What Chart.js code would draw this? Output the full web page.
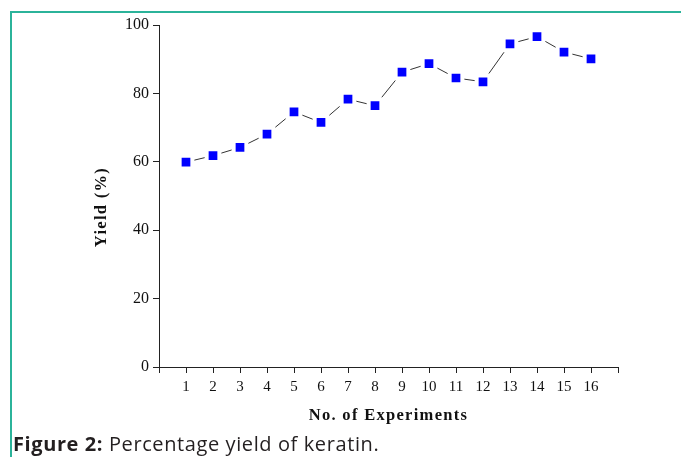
<!DOCTYPE html>
<html>
<head>
<meta charset="utf-8">
<script src="https://cdn.jsdelivr.net/npm/chart.js@4"></script>
<style>
  html, body { margin: 0; padding: 0; background: #fff; }
  #wrap { position: relative; width: 681px; height: 457px; overflow: hidden; }
  #frame { position: absolute; left: 10px; top: 11px; right: 0; bottom: 0;
           border-top: 2px solid #2bb39a; border-left: 2px solid #2bb39a; }
  #chart { position: absolute; left: 0; top: 0; }
  #caption { position: absolute; left: 13px; top: 430px; font-family: "Open Sans", Lato, sans-serif;
             font-size: 20px; letter-spacing: 0.6px; color: #231f20; white-space: nowrap; }
  #caption b { font-weight: 700; }
</style>
</head>
<body>
<div id="wrap">
  <div id="frame"></div>
  <canvas id="chart" width="681" height="457"></canvas>
  <div id="caption"><b>Figure 2:</b> Percentage yield of keratin.</div>
</div>
<script>
// Experiment numbers and keratin yield (%)
const experiments = [1, 2, 3, 4, 5, 6, 7, 8, 9, 10, 11, 12, 13, 14, 15, 16];
const yieldPercent = [59.9, 61.8, 64.2, 68.1, 74.6, 71.5, 78.3, 76.4, 86.2, 88.7, 84.5, 83.4, 94.5, 96.6, 92.1, 90.1];
const yTicks = [0, 20, 40, 60, 80, 100];

const points = experiments.map((e, i) => ({ x: e, y: yieldPercent[i] }));
const axisColor = '#222';
const serif = '"Liberation Serif", "Times New Roman", serif';

// Axis titles are set a little wider (letter spacing) and the y title sits slightly low
const titleSpacing = {
  id: 'titleSpacing',
  afterLayout(chart) {
    const shifts = { x: [0, 0], y: [0, 11] };
    Object.entries(shifts).forEach(([id, [dx, dy]]) => {
      const scale = chart.scales[id];
      if (!scale || scale._spacedTitle) return;
      const orig = scale.drawTitle;
      scale.drawTitle = function () {
        const ctx = this.ctx;
        ctx.save();
        ctx.letterSpacing = '1.3px';
        ctx.translate(dx, dy);
        orig.call(this);
        ctx.restore();
      };
      scale._spacedTitle = true;
    });
  }
};

new Chart(document.getElementById('chart'), {
  type: 'line',
  data: {
    datasets: [{
      data: points,
      borderColor: '#333',
      borderWidth: 1,
      tension: 0,
      pointStyle: 'rect',
      pointRadius: 9,
      pointHoverRadius: 9,
      pointBackgroundColor: '#0000ff',
      pointBorderColor: '#ffffff',
      pointBorderWidth: 4,
      clip: false
    }]
  },
  plugins: [titleSpacing],
  options: {
    responsive: false,
    devicePixelRatio: 1,
    animation: false,
    events: [],
    layout: { padding: { top: 25, right: 63, left: 0, bottom: 0 } },
    plugins: { legend: { display: false }, tooltip: { enabled: false } },
    scales: {
      x: {
        type: 'linear',
        min: 0,
        max: 17,
        afterFit: s => { s.height = 90; },
        afterBuildTicks: s => { s.ticks = Array.from({ length: 18 }, (_, i) => ({ value: i })); },
        grid: { drawOnChartArea: false, drawTicks: true, tickLength: 6, color: axisColor, lineWidth: 1 },
        border: { display: true, color: axisColor, width: 1 },
        ticks: {
          autoSkip: false,
          maxRotation: 0,
          padding: 5,
          color: '#111',
          font: { family: serif, size: 15 },
          callback: v => (experiments.includes(v) ? String(v) : '')
        },
        title: {
          display: true,
          text: 'No. of Experiments',
          color: '#111',
          font: { family: serif, size: 16.5, weight: 'bold' },
          padding: { top: 0, bottom: 31 }
        }
      },
      y: {
        min: 0,
        max: 100,
        afterFit: s => { s.width = 159; },
        afterBuildTicks: s => { s.ticks = yTicks.map(v => ({ value: v })); },
        grid: { drawOnChartArea: false, drawTicks: true, tickLength: 6, color: axisColor, lineWidth: 1 },
        border: { display: true, color: axisColor, width: 1 },
        ticks: {
          padding: 4,
          color: '#111',
          font: { family: serif, size: 16 }
        },
        title: {
          display: true,
          text: 'Yield (%)',
          color: '#111',
          font: { family: serif, size: 16.5, weight: 'bold' },
          padding: { top: 92, bottom: 0 }
        }
      }
    }
  }
});
</script>
</body>
</html>
